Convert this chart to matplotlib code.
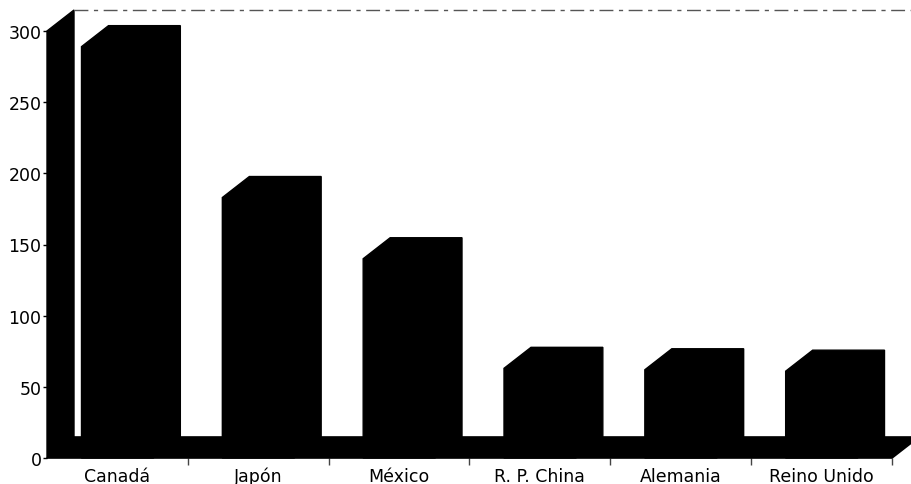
import matplotlib
matplotlib.use("Agg")
import matplotlib.pyplot as plt
from matplotlib.patches import Polygon

categories = ["Canadá", "Japón", "México", "R. P. China", "Alemania", "Reino Unido"]
values = [289, 183, 140, 63, 62, 61]
yticks = [0, 50, 100, 150, 200, 250, 300]

W, H = 911, 485
fig = plt.figure(figsize=(W / 100, H / 100), dpi=100)
ax = fig.add_axes([47 / W, 26 / H, 845 / W, 427 / H])
n = len(categories)
ymax = 300
ax.set_xlim(0, n)
ax.set_ylim(0, ymax)

# depth offsets (in data units)
dx = 27 / 845 * n
dy = 21 / 427 * ymax

# back wall
ax.add_patch(Polygon([(0, 0), (0, ymax), (dx, ymax + dy), (dx, dy)],
                     closed=True, fc="black", ec="black", lw=1, clip_on=False, zorder=2))

# bars
bw = 0.51
for i, v in enumerate(values):
    x0 = i + 0.5 - bw / 2
    x1 = x0 + bw
    pts = [(x0, 0), (x0, v), (x0 + dx, v + dy), (x1 + dx, v + dy), (x1 + dx, dy), (x1, 0)]
    ax.add_patch(Polygon(pts, closed=True, fc="black", ec="black", lw=1, clip_on=False, zorder=2))

# floor (drawn on top so bars merge into it)
ax.add_patch(Polygon([(0, 0), (n, 0), (n + dx, dy), (dx, dy)],
                     closed=True, fc="black", ec="black", lw=1.2, clip_on=False, zorder=3))

# top border of back wall (faint dashed)
ax.plot([dx, n + dx], [ymax + dy, ymax + dy], color="#555555", lw=1.0,
        linestyle=(0, (10, 4, 3, 4)), clip_on=False)

for s in ax.spines.values():
    s.set_visible(False)

fs = 12.5
ax.set_yticks(yticks)
ax.set_yticklabels([str(t) for t in yticks], fontsize=fs, family="DejaVu Sans")
ax.tick_params(axis="y", length=3, width=1, pad=1, color="black")

ax.set_xticks([i for i in range(1, n + 1)])
ax.set_xticklabels([])
ax.tick_params(axis="x", length=5, width=1, color="#444444")
for i, c in enumerate(categories):
    ax.text(i + 0.5, -0.02, c, transform=ax.get_xaxis_transform(),
            ha="center", va="top", fontsize=fs, family="DejaVu Sans")

fig.savefig("out.png", dpi=100, facecolor="white")
